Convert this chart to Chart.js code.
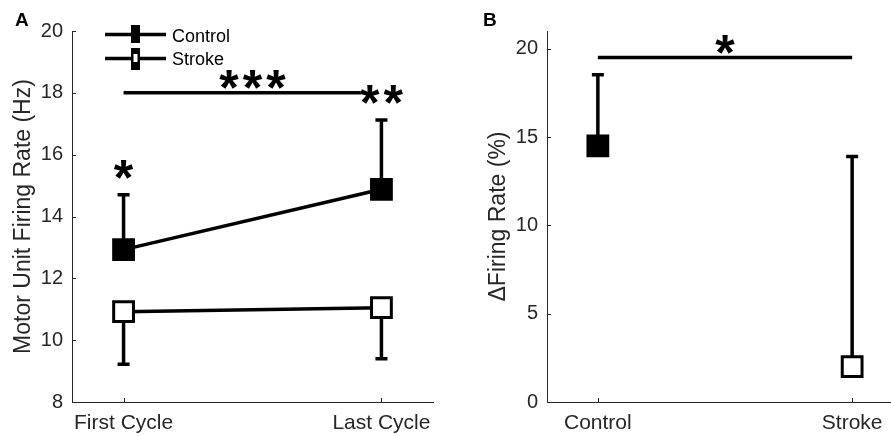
<!DOCTYPE html>
<html>
<head>
<meta charset="utf-8">
<script src="https://cdn.jsdelivr.net/npm/chart.js@4.4.1/dist/chart.umd.min.js"></script>
<style>
  html, body { margin: 0; padding: 0; background: #fff; overflow: hidden; width: 891px; height: 436px; }
  canvas { position: absolute; top: 0; }
</style>
</head>
<body>
<canvas id="chartA" width="450" height="436" style="left:0"></canvas>
<canvas id="chartB" width="470" height="436" style="left:450px"></canvas>
<script>
// panel A - firing rate per cycle
const cyclePos = [1, 2];
const cycleLabels = ['First Cycle', 'Last Cycle'];
const controlRate = [12.93, 14.88];
const controlUpper = [14.7, 17.12];
const strokeRate = [10.92, 11.05];
const strokeLower = [9.22, 9.4];
const yTicksA = [8, 10, 12, 14, 16, 18, 20];

// panel B - change in firing rate
const groupPos = [1, 2];
const groupLabels = ['Control', 'Stroke'];
const deltaRate = [14.5, 2.0];
const deltaUpper = [18.52, 13.9];
const yTicksB = [0, 5, 10, 15, 20];

// significance marks: [x, y, text]
const starsA = [[1, 15.48, '*'], [1.5, 18.38, '***'], [2, 17.9, '**']];
const barA = [1, 1.92, 18];
const starsB = [[1.5, 20.15, '*']];
const barB = [1, 2, 19.5];

const INK = '#262626';
const FONT = "'Liberation Sans', Arial, sans-serif";
Chart.defaults.font.family = FONT;
Chart.defaults.color = INK;

function drawErrorBar(ctx, xs, ys, xv, from, to) {
    const X = xs.getPixelForValue(xv);
    const Y0 = ys.getPixelForValue(from);
    const Y1 = ys.getPixelForValue(to);
    ctx.beginPath();
    ctx.moveTo(X, Y0);
    ctx.lineTo(X, Y1);
    ctx.moveTo(X - 6, Y1);
    ctx.lineTo(X + 6, Y1);
    ctx.stroke();
}

function drawStars(ctx, xs, ys, list) {
    ctx.font = 'bold 50px ' + FONT;
    ctx.textAlign = 'center';
    ctx.textBaseline = 'alphabetic';
    ctx.fillStyle = '#000';
    list.forEach(([xv, yv, txt]) => {
        const cx = xs.getPixelForValue(xv);
        const cy = ys.getPixelForValue(yv);
        const n = txt.length;
        for (let i = 0; i < n; i++) {
            ctx.fillText('*', cx + (i - (n - 1) / 2) * 23.5, cy + 24);
        }
    });
}

function drawInwardTicks(chart) {
    const { ctx, chartArea, scales: { x, y } } = chart;
    ctx.save();
    ctx.strokeStyle = INK;
    ctx.lineWidth = 1;
    ctx.beginPath();
    x.ticks.forEach(t => {
        const px = Math.round(x.getPixelForValue(t.value)) + 0.5;
        ctx.moveTo(px, chartArea.bottom);
        ctx.lineTo(px, chartArea.bottom - 4);
    });
    y.ticks.forEach(t => {
        const py = Math.round(y.getPixelForValue(t.value)) + 0.5;
        ctx.moveTo(chartArea.left, py);
        ctx.lineTo(chartArea.left + 4, py);
    });
    ctx.stroke();
    ctx.restore();
}

function makeScales(xMin, xMax, xPos, xLabels, yMin, yMax, yTicks, yTitle, yWidth, titlePad) {
    return {
        x: {
            type: 'linear', min: xMin, max: xMax,
            grid: { display: false, drawTicks: false },
            border: { display: true, color: INK, width: 1 },
            afterBuildTicks: s => { s.ticks = xPos.map(v => ({ value: v })); },
            ticks: {
                font: { size: 21 }, color: INK, padding: 9, maxRotation: 0,
                callback: v => xLabels[xPos.indexOf(v)]
            },
            afterFit: s => { s.height = 34; }
        },
        y: {
            min: yMin, max: yMax,
            grid: { display: false, drawTicks: false },
            border: { display: true, color: INK, width: 1 },
            afterBuildTicks: s => { s.ticks = yTicks.map(v => ({ value: v })); },
            ticks: { font: { size: 20 }, color: INK, padding: 9 },
            title: { display: true, text: yTitle, font: { size: 23 }, color: INK, padding: { top: titlePad, bottom: 0 } },
            afterFit: s => { s.width = yWidth; }
        }
    };
}

function markerSet(label, xs, ys, fill, line) {
    return {
        label: label,
        data: xs.map((x, i) => ({ x: x, y: ys[i] })),
        showLine: line,
        borderColor: '#000',
        borderWidth: 3.5,
        pointStyle: 'rect',
        pointRadius: 14,
        pointBackgroundColor: fill,
        pointBorderColor: '#000',
        pointBorderWidth: 3,
        clip: false
    };
}

// Panel A
new Chart(document.getElementById('chartA').getContext('2d'), {
    type: 'scatter',
    data: {
        datasets: [
            markerSet('Control', cyclePos, controlRate, '#000', true),
            markerSet('Stroke', cyclePos, strokeRate, '#fff', true)
        ]
    },
    options: {
        responsive: false,
        animation: false,
        events: [],
        layout: { padding: { top: 31, right: 17, bottom: 0, left: 0 } },
        plugins: { legend: { display: false }, tooltip: { enabled: false } },
        scales: makeScales(0.8, 2.2, cyclePos, cycleLabels, 8, 20, yTicksA, 'Motor Unit Firing Rate (Hz)', 72, 10)
    },
    plugins: [{
        id: 'extrasA',
        beforeDatasetsDraw(chart) {
            const { ctx, scales: { x, y } } = chart;
            ctx.save();
            ctx.strokeStyle = '#000';
            ctx.lineWidth = 3.5;
            cyclePos.forEach((p, i) => {
                drawErrorBar(ctx, x, y, p, controlRate[i], controlUpper[i]);
                drawErrorBar(ctx, x, y, p, strokeRate[i], strokeLower[i]);
            });
            // significance bar
            ctx.beginPath();
            ctx.moveTo(x.getPixelForValue(barA[0]), y.getPixelForValue(barA[2]));
            ctx.lineTo(x.getPixelForValue(barA[1]), y.getPixelForValue(barA[2]));
            ctx.stroke();
            ctx.restore();
        },
        afterDraw(chart) {
            const { ctx, scales: { x, y } } = chart;
            drawInwardTicks(chart);
            ctx.save();
            drawStars(ctx, x, y, starsA);

            // legend
            ctx.strokeStyle = '#000';
            ctx.fillStyle = '#000';
            ctx.lineWidth = 3.5;
            ctx.beginPath();
            ctx.moveTo(105, 34.5); ctx.lineTo(166, 34.5);
            ctx.moveTo(105, 58.5); ctx.lineTo(166, 58.5);
            ctx.stroke();
            ctx.fillRect(131, 25, 9, 18);
            ctx.fillRect(131, 48, 9, 22);
            ctx.fillStyle = '#fff';
            ctx.fillRect(133.5, 54, 4, 8);
            ctx.fillStyle = '#000';
            ctx.font = '18px ' + FONT;
            ctx.textAlign = 'left';
            ctx.textBaseline = 'middle';
            ctx.fillText('Control', 172, 37);
            ctx.fillText('Stroke', 172, 60);

            // panel letter
            ctx.font = 'bold 19px ' + FONT;
            ctx.textBaseline = 'alphabetic';
            ctx.fillText('A', 15, 26);
            ctx.restore();
        }
    }]
});

// Panel B
new Chart(document.getElementById('chartB').getContext('2d'), {
    type: 'scatter',
    data: {
        datasets: [
            markerSet('Control', [groupPos[0]], [deltaRate[0]], '#000', false),
            markerSet('Stroke', [groupPos[1]], [deltaRate[1]], '#fff', false)
        ]
    },
    options: {
        responsive: false,
        animation: false,
        events: [],
        layout: { padding: { top: 31, right: 13, bottom: 0, left: 0 } },
        plugins: { legend: { display: false }, tooltip: { enabled: false } },
        scales: makeScales(0.8, 2.2, groupPos, groupLabels, 0, 21, yTicksB, '\u0394Firing Rate (%)', 97, 35)
    },
    plugins: [{
        id: 'extrasB',
        beforeDatasetsDraw(chart) {
            const { ctx, scales: { x, y } } = chart;
            ctx.save();
            ctx.strokeStyle = '#000';
            ctx.lineWidth = 3.5;
            groupPos.forEach((p, i) => drawErrorBar(ctx, x, y, p, deltaRate[i], deltaUpper[i]));
            ctx.beginPath();
            ctx.moveTo(x.getPixelForValue(barB[0]), y.getPixelForValue(barB[2]));
            ctx.lineTo(x.getPixelForValue(barB[1]), y.getPixelForValue(barB[2]));
            ctx.stroke();
            ctx.restore();
        },
        afterDraw(chart) {
            const { ctx, scales: { x, y } } = chart;
            drawInwardTicks(chart);
            ctx.save();
            drawStars(ctx, x, y, starsB);
            ctx.fillStyle = '#000';
            ctx.font = 'bold 19px ' + FONT;
            ctx.textAlign = 'left';
            ctx.fillText('B', 33, 26);
            ctx.restore();
        }
    }]
});
</script>
</body>
</html>
